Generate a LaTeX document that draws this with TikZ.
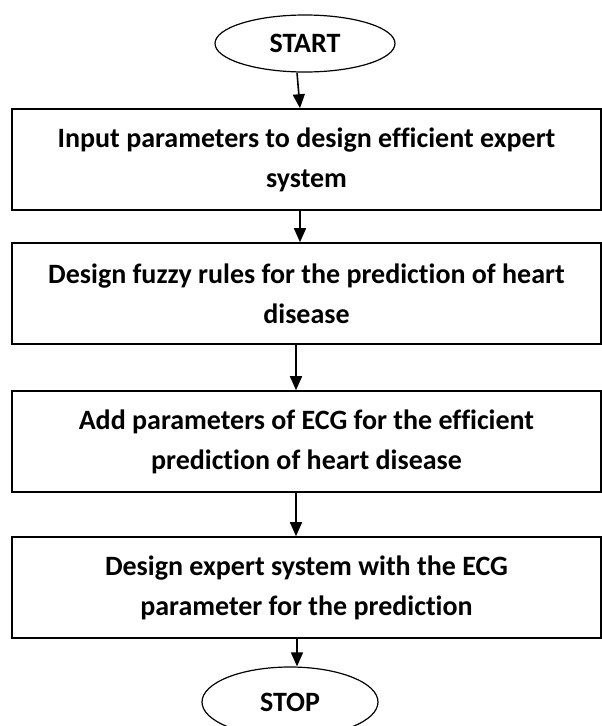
\documentclass[tikz,border=0pt]{standalone}
\usepackage{fontspec}
\setmainfont{Carlito}[Ligatures=NoCommon]
\usetikzlibrary{shapes.geometric,arrows.meta}
\begin{document}
\begin{tikzpicture}[x=1pt,y=-1pt,
  stepbox/.style={draw,line width=1.6pt,minimum width=589pt,inner sep=0pt,align=center,
    font=\fontsize{28}{40}\selectfont\bfseries},
  term/.style={draw,line width=1.2pt,ellipse,inner sep=0pt,font=\fontsize{28}{32}\selectfont\bfseries},
  arr/.style={line width=1.6pt,-{Triangle[length=14pt,width=12pt]}}]
\useasboundingbox (0,0) rectangle (602,726);
\node[term,minimum width=180pt,minimum height=57pt] (start) at (305,43.5) {\raisebox{-3pt}{START}};
\node[stepbox,minimum height=101pt] (b1) at (306.5,159.5) {Input parameters to design efficient expert\\system};
\node[stepbox,minimum height=101pt] (b2) at (306.5,293.5) {Design fuzzy rules for the prediction of heart\\disease};
\node[stepbox,minimum height=101pt] (b3) at (306.5,441.5) {Add parameters of ECG for the efficient\\prediction of heart disease};
\node[stepbox,minimum height=101pt] (b4) at (306.5,587.5) {Design expert system with the ECG\\parameter for the prediction};
\node[term,minimum width=176pt,minimum height=70pt] (stop) at (290,702) {\raisebox{-3pt}{STOP}};
\draw[arr] ([xshift=-8pt]start.south) -- ([xshift=-6.5pt]b1.north);
\draw[arr] ([xshift=-6.5pt]b1.south) -- ([xshift=-6.5pt]b2.north);
\draw[arr] ([xshift=-10.5pt]b2.south) -- ([xshift=-10.5pt]b3.north);
\draw[arr] ([xshift=-10.5pt]b3.south) -- ([xshift=-10.5pt]b4.north);
\draw[arr] ([xshift=-9.5pt]b4.south) -- ([xshift=7pt]stop.north);
\end{tikzpicture}
\end{document}
